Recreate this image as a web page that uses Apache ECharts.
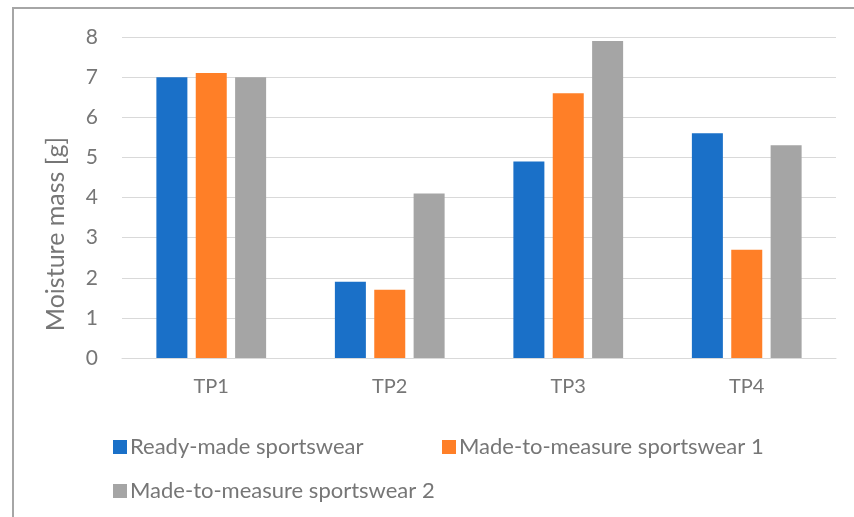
<!DOCTYPE html>
<html>
<head>
<meta charset="utf-8">
<script src="https://cdn.jsdelivr.net/npm/echarts@6/dist/echarts.min.js"></script>
<style>
  html, body { margin: 0; padding: 0; background: #fff; }
  #chart { width: 854px; height: 517px; }
</style>
</head>
<body>
<div id="chart"></div>
<script>
// categories and values
const categories = ['TP1', 'TP2', 'TP3', 'TP4']
const readyMade = [7.0, 1.9, 4.9, 5.6]
const madeToMeasure1 = [7.1, 1.7, 6.6, 2.7]
const madeToMeasure2 = [7.0, 4.1, 7.9, 5.3]
const seriesNames = ['Ready-made sportswear', 'Made-to-measure sportswear 1', 'Made-to-measure sportswear 2']
const yTitle = 'Moisture mass [g]'
const colors = ['#1A70C8', '#FF7F27', '#A5A5A5']

const chart = echarts.init(document.getElementById('chart'))
const font = 'Lato, "Open Sans", sans-serif'
const textColor = '#767676'

// one legend per item so each can sit where the reference puts it
function legendAt(name, left, top) {
  return {
    data: [name],
    left: left, top: top,
    itemWidth: 14, itemHeight: 14, itemGap: 6,
    icon: 'rect',
    textStyle: { color: textColor, fontSize: 22, fontFamily: font, padding: [0, 0, 0, -2] }
  }
}

chart.setOption({
  animation: false,
  color: colors,
  graphic: [
    {
      type: 'rect',
      shape: { x: 13, y: 8, width: 900, height: 600 },
      style: { fill: 'none', stroke: '#A6A6A6', lineWidth: 2 },
      silent: true
    },
    {
      // the axis title sits lower than the plot centre in the reference
      type: 'text',
      x: 56, y: 234,
      rotation: Math.PI / 2,
      style: {
        text: yTitle,
        fill: textColor,
        font: '25px Lato, "Open Sans", sans-serif',
        align: 'center',
        verticalAlign: 'middle'
      },
      silent: true
    }
  ],
  grid: { left: 122, right: 18, top: 37, bottom: 159, containLabel: false },
  legend: [
    legendAt(seriesNames[0], 108, 431),
    legendAt(seriesNames[1], 437, 431),
    legendAt(seriesNames[2], 108, 475)
  ],
  xAxis: {
    type: 'category',
    data: categories,
    axisLine: { lineStyle: { color: '#D9D9D9', width: 1 } },
    axisTick: { show: false },
    axisLabel: { color: textColor, fontSize: 20, fontFamily: font, margin: 19 }
  },
  yAxis: {
    type: 'value',
    min: 0, max: 8, interval: 1,
    axisLine: { show: false },
    axisTick: { show: false },
    splitLine: { lineStyle: { color: '#D9D9D9', width: 1 } },
    axisLabel: { color: textColor, fontSize: 21, fontFamily: font, margin: 24 }
  },
  series: [
    { name: seriesNames[0], type: 'bar', data: readyMade, barWidth: 31, barGap: '27%' },
    { name: seriesNames[1], type: 'bar', data: madeToMeasure1, barWidth: 31, barGap: '27%' },
    { name: seriesNames[2], type: 'bar', data: madeToMeasure2, barWidth: 31, barGap: '27%' }
  ]
})
</script>
</body>
</html>
